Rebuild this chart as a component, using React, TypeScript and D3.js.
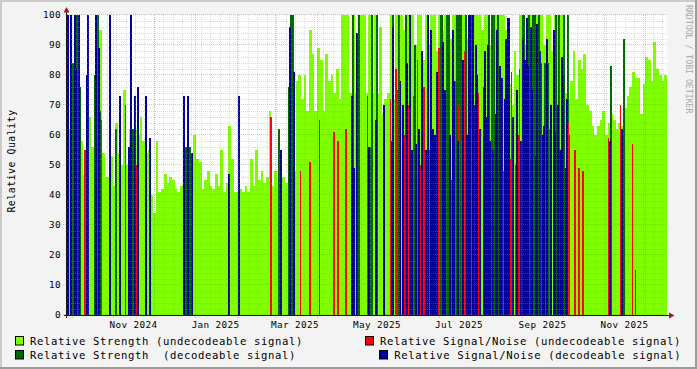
import React, { useEffect, useRef } from 'react';
import * as d3 from 'd3';

const DAY = 86400000;
// first and last instant shown on the time axis
const START = Date.UTC(2024, 8, 27, 12);
const END = Date.UTC(2025, 11, 17, 14);
const BUCKET_DAYS = 2;

// Relative Strength (undecodeable signal), one value per 2 days from START
const strengthUndecodeable = [
  62, 62, 45, 45, 44, 58, 47, 52, 66, 56,
  55, 80, 95, 54, 46, 46, 53, 43, 64, 54,
  50, 75, 50, 62, 56, 62, 60, 66, 58, 54,
  55, 40, 34, 58, 41, 42, 47, 44, 46, 45,
  42, 41, 43, 55, 52, 46, 44, 60, 52, 51,
  42, 45, 48, 43, 42, 47, 43, 55, 41, 44,
  63, 52, 41, 41, 42, 41, 43, 41, 52, 43,
  55, 45, 48, 44, 46, 68, 43, 48, 44, 43,
  46, 44, 76, 81, 48, 78, 80, 72, 80, 68,
  95, 87, 68, 89, 85, 68, 87, 78, 80, 74,
  82, 72, 100, 100, 100, 74, 100, 74, 100, 100,
  100, 74, 100, 74, 100, 74, 96, 67, 72, 74,
  100, 72, 100, 100, 100, 95, 100, 90, 100, 90,
  100, 100, 85, 100, 90, 100, 100, 88, 100, 95,
  100, 100, 92, 100, 100, 90, 100, 100, 92, 100,
  85, 100, 100, 100, 95, 100, 100, 90, 100, 100,
  100, 100, 100, 95, 77, 70, 88, 80, 100, 100,
  90, 100, 100, 92, 100, 100, 100, 90, 100, 100,
  88, 100, 100, 100, 100, 74, 72, 78, 88, 72,
  85, 82, 87, 70, 68, 63, 60, 63, 65, 68,
  60, 64, 67, 65, 62, 64, 63, 69, 73, 76,
  81, 79, 79, 67, 77, 86, 85, 78, 91, 82,
  80, 78, 80,
];

// [day since START, value]
const strengthDecodeable = [
  [4, 84], [5, 100], [6, 84], [7, 100], [8, 100], [9, 76], [20, 80], [21, 100], [22, 100], [23, 89],
  [24, 68], [36, 62], [48, 62], [88, 56], [89, 56], [90, 56], [91, 56], [157, 62], [164, 76], [166, 100],
  [167, 100], [212, 100], [216, 100], [225, 56], [226, 100], [230, 100], [242, 100], [246, 100], [251, 100], [258, 90],
  [277, 100], [278, 100], [282, 100], [283, 100], [289, 100], [291, 100], [292, 100], [296, 100], [300, 100], [313, 100],
  [315, 100], [317, 100], [320, 100], [338, 100], [339, 100], [343, 100], [346, 100], [347, 100],
  [350, 100], [352, 84], [355, 84], [357, 84], [363, 100], [365, 100],
  [369, 100], [372, 100], [404, 83], [413, 92],
];

const snrUndecodeable = [
  [13, 55], [25, 65], [43, 70], [51, 50], [151, 66], [173, 48], [180, 51], [187, 65], [198, 61], [201, 58],
  [207, 62], [223, 73], [240, 72], [244, 82], [245, 75], [250, 60], [253, 70], [257, 73], [260, 85], [262, 50],
  [264, 59], [265, 76], [267, 15], [269, 55], [272, 60], [275, 50], [276, 89], [281, 67], [285, 45], [288, 78],
  [291, 70], [293, 58], [295, 88], [300, 62], [305, 74], [307, 55], [324, 48], [329, 52], [330, 81], [333, 50],
  [335, 60], [336, 82], [339, 70], [358, 62], [372, 64], [373, 60], [377, 55], [380, 49], [383, 48], [402, 59],
  [411, 70], [420, 57], [422, 15],
];

const snrDecodeable = [
  [0, 100], [2, 100], [5, 100], [6, 82], [8, 100], [14, 80], [15, 100], [21, 100], [23, 89], [31, 100],
  [39, 73], [45, 56], [47, 100], [50, 73], [52, 76], [58, 73], [61, 59], [86, 73], [89, 73], [92, 54],
  [120, 47], [127, 73], [158, 55], [165, 96], [168, 81], [211, 73], [213, 49], [215, 94], [224, 56], [229, 65],
  [235, 70], [241, 58], [242, 96], [247, 78], [249, 70], [252, 84], [254, 100], [256, 55], [259, 57], [261, 62],
  [263, 88], [266, 55], [268, 100], [270, 95], [271, 62], [273, 60], [274, 81], [279, 91], [280, 75], [284, 60],
  [286, 95], [287, 78], [290, 58], [294, 85], [297, 60], [298, 100], [299, 100], [301, 100], [302, 70], [303, 90],
  [304, 80], [306, 62], [309, 76], [310, 88], [311, 66], [312, 90], [314, 58], [316, 55], [318, 67], [319, 95],
  [321, 83], [322, 60], [323, 79], [325, 72], [326, 92], [327, 99], [328, 99], [331, 66], [334, 75], [337, 58],
  [338, 92], [340, 85], [341, 99], [342, 83], [344, 96], [345, 75], [348, 53], [349, 97], [351, 88], [353, 60],
  [354, 63], [356, 92], [359, 70], [361, 95], [362, 61], [364, 70], [366, 55], [367, 86], [368, 80], [370, 49],
  [371, 72], [403, 58], [412, 62],
];

const yTicks = [0, 10, 20, 30, 40, 50, 60, 70, 80, 90, 100];
const xLabels = [
  [2024, 10], [2025, 0], [2025, 2], [2025, 4], [2025, 6], [2025, 8], [2025, 10],
];

const legendItems = [
  { label: 'Relative Strength (undecodeable signal)', color: '#80ff00' },
  { label: 'Relative Strength  (decodeable signal)', color: '#006600' },
  { label: 'Relative Signal/Noise (undecodeable signal)', color: '#ff0000' },
  { label: 'Relative Signal/Noise (decodeable signal)', color: '#000099' },
];

const FONT = '"DejaVu Sans Mono", monospace';

const App = () => {
  const ref = useRef(null);

  useEffect(() => {
    const W = 697, H = 369;
    const plotL = 67, plotR = 667, plotT = 15, plotB = 315;

    const svg = d3.select(ref.current);
    svg.selectAll('*').remove();

    //background + 3d frame
    svg.append('rect').attr('width', W).attr('height', H).attr('fill', '#f3f3f3');
    svg.append('rect').attr('width', W).attr('height', 2).attr('fill', '#cbcbcb');
    svg.append('rect').attr('width', 2).attr('height', H).attr('fill', '#cbcbcb');
    svg.append('rect').attr('y', H - 2).attr('width', W).attr('height', 2).attr('fill', '#9c9c9c');
    svg.append('rect').attr('x', W - 2).attr('width', 2).attr('height', H).attr('fill', '#9c9c9c');

    svg.append('rect')
      .attr('x', plotL).attr('y', plotT)
      .attr('width', plotR - plotL).attr('height', plotB - plotT)
      .attr('fill', '#ffffff');

    const x = d3.scaleUtc().domain([START, END]).range([plotL, plotR]);
    const y = d3.scaleLinear().domain([0, 100]).range([plotB, plotT]);
    const dayW = x(START + DAY) - x(START);

    svg.append('clipPath').attr('id', 'plotclip')
      .append('rect').attr('x', plotL).attr('y', plotT - 1)
      .attr('width', plotR - plotL).attr('height', plotB - plotT + 1);

    const plot = svg.append('g').attr('clip-path', 'url(#plotclip)');

    //light green area as steps
    const pts = strengthUndecodeable.map((v, i) => ({ t: START + i * BUCKET_DAYS * DAY, v }));
    pts.push({ t: START + strengthUndecodeable.length * BUCKET_DAYS * DAY, v: pts[pts.length - 1].v });
    const area = d3.area()
      .x((d) => x(d.t))
      .y0(y(0))
      .y1((d) => y(d.v))
      .curve(d3.curveStepAfter);
    plot.append('path').datum(pts).attr('d', area).attr('fill', '#80ff00')
      .attr('shape-rendering', 'crispEdges');

    const drawBars = (data, color, minW) => {
      plot.append('g').attr('shape-rendering', 'crispEdges')
        .selectAll('rect').data(data).join('rect')
        .attr('x', (d) => x(START + d[0] * DAY))
        .attr('y', (d) => y(d[1]))
        .attr('width', Math.max(minW, dayW))
        .attr('height', (d) => y(0) - y(d[1]))
        .attr('fill', color);
    };
    drawBars(strengthDecodeable, '#006600', 2);
    drawBars(snrUndecodeable, '#ff0000', 1.5);
    drawBars(snrDecodeable, '#000099', 2);

    //grid (drawn over the data like rrdtool)
    const minorCol = 'rgba(150,150,150,0.32)';
    const majorCol = 'rgba(220,80,80,0.38)';
    const grid = svg.append('g').attr('shape-rendering', 'crispEdges').attr('stroke-dasharray', '1,1');

    d3.range(0, 101, 2).filter((v) => v % 10 !== 0).forEach((v) => {
      const yy = Math.round(y(v)) + 0.5;
      grid.append('line').attr('x1', plotL - 2).attr('x2', plotR).attr('y1', yy).attr('y2', yy).attr('stroke', minorCol);
    });
    d3.utcSunday.range(START, END).forEach((t) => {
      const xx = Math.round(x(t)) + 0.5;
      grid.append('line').attr('x1', xx).attr('x2', xx).attr('y1', plotT).attr('y2', plotB + 2).attr('stroke', minorCol);
    });
    yTicks.forEach((v) => {
      const yy = Math.round(y(v)) - 0.5;
      grid.append('line').attr('x1', plotL - 4).attr('x2', plotR).attr('y1', yy).attr('y2', yy).attr('stroke', majorCol);
    });
    d3.utcMonth.range(START, END).forEach((t) => {
      const xx = Math.round(x(t)) + 0.5;
      grid.append('line').attr('x1', xx).attr('x2', xx).attr('y1', plotT).attr('y2', plotB + 4).attr('stroke', majorCol);
    });

    //axes
    svg.append('line').attr('x1', plotL - 3).attr('x2', plotR + 4).attr('y1', plotB + 0.5).attr('y2', plotB + 0.5)
      .attr('stroke', '#1a1a1a').attr('shape-rendering', 'crispEdges');
    svg.append('line').attr('x1', plotL - 0.5).attr('x2', plotL - 0.5).attr('y1', plotB + 3).attr('y2', plotT - 4)
      .attr('stroke', '#1a1a1a').attr('shape-rendering', 'crispEdges');
    svg.append('path').attr('d', `M${plotL - 3.5},${plotT - 2.5}L${plotL + 2.5},${plotT - 2.5}L${plotL - 0.5},${plotT - 8}Z`)
      .attr('fill', '#9a1c1c');
    svg.append('path').attr('d', `M${plotR + 2},${plotB - 2.5}L${plotR + 2},${plotB + 3.5}L${plotR + 7.5},${plotB + 0.5}Z`)
      .attr('fill', '#9a1c1c');

    //y labels
    svg.append('g').selectAll('text').data(yTicks).join('text')
      .attr('x', plotL - 6).attr('y', (d) => y(d) + 3.3)
      .attr('text-anchor', 'end')
      .attr('font-family', FONT).attr('font-size', 9.3).attr('letter-spacing', 0.4)
      .attr('fill', '#000').text((d) => d);

    //x labels, centred mid month
    svg.append('g').selectAll('text').data(xLabels).join('text')
      .attr('x', (d) => x(Date.UTC(d[0], d[1], 16)))
      .attr('y', 327.5)
      .attr('text-anchor', 'middle')
      .attr('font-family', FONT).attr('font-size', 9.3).attr('letter-spacing', 0.4)
      .attr('fill', '#000')
      .text((d) => d3.utcFormat('%b %Y')(new Date(Date.UTC(d[0], d[1], 1))));

    //vertical title
    svg.append('text')
      .attr('transform', 'translate(15,161) rotate(-90)')
      .attr('text-anchor', 'middle')
      .attr('font-family', FONT).attr('font-size', 9.8).attr('letter-spacing', 0.55)
      .attr('fill', '#000').text('Relative Quality');

    //watermark
    svg.append('text')
      .attr('transform', 'translate(686,5) rotate(90)')
      .attr('font-family', FONT).attr('font-size', 8.2)
      .attr('fill', '#a8a8a8').text('RRDTOOL / TOBI OETIKER');

    //legend
    const legendPos = [
      { sx: 15.5, sy: 336.5, tx: 30, ty: 345 },
      { sx: 15.5, sy: 350.5, tx: 30, ty: 359.3 },
      { sx: 365.5, sy: 336.5, tx: 380, ty: 345 },
      { sx: 379.5, sy: 350.5, tx: 394.3, ty: 359.3 },
    ];
    legendItems.forEach((item, i) => {
      const p = legendPos[i];
      svg.append('rect').attr('x', p.sx).attr('y', p.sy).attr('width', 8).attr('height', 8.5)
        .attr('fill', item.color).attr('stroke', '#000').attr('stroke-width', 1);
      svg.append('text').attr('x', p.tx).attr('y', p.ty)
        .attr('font-family', FONT).attr('font-size', 10.6).attr('letter-spacing', 0.62)
        .attr('fill', '#000').attr('xml:space', 'preserve').style('white-space', 'pre')
        .text(item.label);
    });
  }, []);

  return (
    <svg ref={ref} width={697} height={369} style={{ position: 'absolute', left: 0, top: 0, display: 'block' }} />
  );
};

export default App;
